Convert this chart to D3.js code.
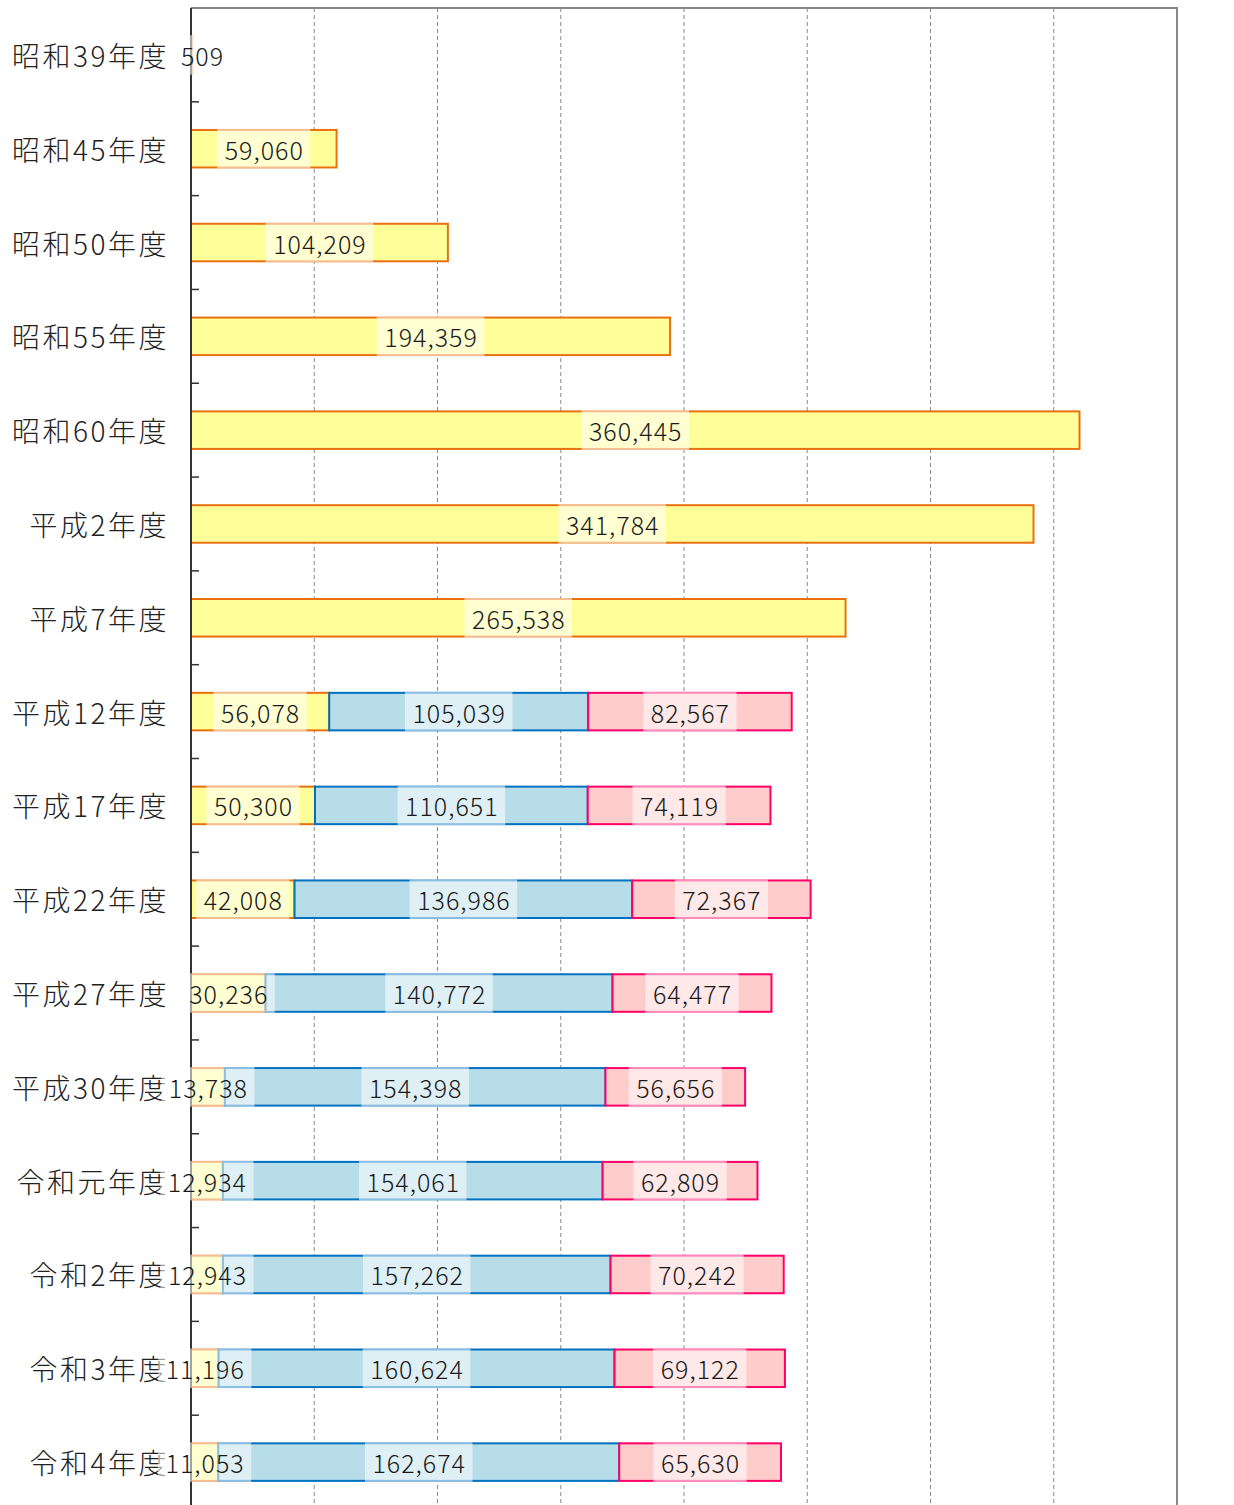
<!DOCTYPE html>
<html><head><meta charset="utf-8">
<script src="https://cdn.jsdelivr.net/npm/d3@7"></script>
<style>body{margin:0;background:#fff}</style>
</head><body>
<svg id="c" width="1234" height="1505"></svg>
<script>
const categories = ["昭和39年度","昭和45年度","昭和50年度","昭和55年度","昭和60年度","平成2年度","平成7年度","平成12年度","平成17年度","平成22年度","平成27年度","平成30年度","令和元年度","令和2年度","令和3年度","令和4年度"];
const series1 = [509,59060,104209,194359,360445,341784,265538,56078,50300,42008,30236,13738,12934,12943,11196,11053];
const series2 = [0,0,0,0,0,0,0,105039,110651,136986,140772,154398,154061,157262,160624,162674];
const series3 = [0,0,0,0,0,0,0,82567,74119,72367,64477,56656,62809,70242,69122,65630];
const xTicks = [0,50000,100000,150000,200000,250000,300000,350000,400000];

(function(){
const fills = ["#FFFF99","#B7DDE8","#FFCCCC"];
const strokes = ["#E8700F","#0070C0","#FF0066"];
const fontFam = "'Noto Sans CJK JP','Noto Sans',sans-serif";

const svg = d3.select("#c");
const pL = 191, pR = 1177, pT = 8, pB = 1509;
const x = d3.scaleLinear().domain([0,400000]).range([pL,pR]);
const y = d3.scaleBand().domain(categories).range([pT,pB]).paddingInner(0.6).paddingOuter(0.3);

// gridlines
svg.append("g").selectAll("line").data(xTicks.slice(1,-1)).join("line")
  .attr("x1",d=>x(d)).attr("x2",d=>x(d)).attr("y1",pT).attr("y2",pB)
  .attr("stroke","#8a8a8a").attr("stroke-width",1).attr("stroke-dasharray","4,3");

// frame top/right
svg.append("path").attr("d",`M${pL},${pT}H${pR}V${pB}`)
  .attr("fill","none").attr("stroke","#888").attr("stroke-width",2);

const rows = categories.map((c,i)=>({c, vals:[series1[i],series2[i],series3[i]]}));
const segs = [];
rows.forEach(r=>{
  let acc=0;
  r.vals.forEach((v,k)=>{ if(v>0){ segs.push({c:r.c,k,v,x0:acc,x1:acc+v}); } acc+=v; });
});

// bars
svg.append("g").selectAll("rect").data(segs).join("rect")
  .attr("x",d=>x(d.x0)).attr("width",d=>Math.max(0.5,x(d.x1)-x(d.x0)))
  .attr("y",d=>y(d.c)).attr("height",y.bandwidth())
  .attr("fill",d=>fills[d.k]).attr("stroke",d=>d.k===0&&d.v<1000?"#F4B183":strokes[d.k]).attr("stroke-width",2);

// y axis
const yAxis = svg.append("g").attr("transform",`translate(${pL},0)`);
yAxis.append("line").attr("x1",0).attr("x2",0).attr("y1",pT).attr("y2",pB).attr("stroke","#333").attr("stroke-width",2);
const bounds = categories.map((c,i)=>pT + (pB-pT)/categories.length*i).slice(1);
yAxis.selectAll("line.t").data(bounds).join("line").attr("class","t")
  .attr("x1",0).attr("x2",8).attr("y1",d=>d).attr("y2",d=>d).attr("stroke","#333").attr("stroke-width",1.5);

// category labels
svg.append("g").selectAll("text").data(categories).join("text")
  .attr("x",169).attr("y",d=>y(d)+y.bandwidth()/2).attr("text-anchor","end")
  .attr("dominant-baseline","central").attr("font-family",fontFam).attr("font-size",28)
  .attr("font-weight",300).attr("letter-spacing",2.5).attr("fill","#222")
  .text(d=>d);

// value labels
const fmt = d3.format(",");
const lg = svg.append("g");
segs.forEach(d=>{
  let cx = (x(d.x0)+x(d.x1))/2;
  cx = Math.max(cx, pL+11);
  const cy = y(d.c)+y.bandwidth()/2;
  const g = lg.append("g");
  const r = g.append("rect").attr("fill","#fff").attr("fill-opacity",0.55);
  const t = g.append("text").attr("x",cx+0.5).attr("y",cy).attr("text-anchor","middle")
    .attr("dominant-baseline","central").attr("font-family",fontFam).attr("font-size",25)
    .attr("font-weight",300).attr("letter-spacing",1).attr("fill","#1a1a1a")
    .text(fmt(d.v));
  const w = t.node().getComputedTextLength()+14;
  r.attr("x",cx-w/2).attr("width",w).attr("y",y(d.c)-1).attr("height",y.bandwidth()+2);
});
})();
</script>
</body></html>
